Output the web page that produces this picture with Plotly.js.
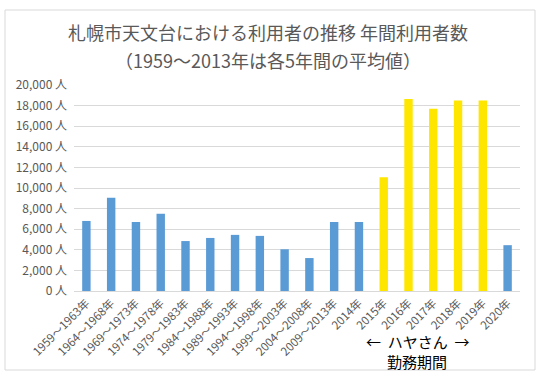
<!DOCTYPE html>
<html><head><meta charset="utf-8">
<script src="https://cdn.plot.ly/plotly-3.0.1.min.js"></script>
<style>html,body{margin:0;padding:0;background:#fff;}#chart{width:543px;height:378px;}</style>
</head><body><div id="chart"></div>
<script>
const categories = ["1959～1963年","1964～1968年","1969～1973年","1974～1978年","1979～1983年","1984～1988年","1989～1993年","1994～1998年","1999～2003年","2004～2008年","2009～2013年","2014年","2015年","2016年","2017年","2018年","2019年","2020年"];
const visitors = [6800,9050,6700,7500,4850,5150,5450,5350,4050,3200,6700,6700,11050,18650,17700,18500,18500,4450];
const highlighted = [false,false,false,false,false,false,false,false,false,false,false,false,true,true,true,true,true,false];
const titleLine1 = "札幌市天文台における利用者の推移 年間利用者数";
const titleLine2 = "（1959～2013年は各5年間の平均値）";
const blue = "#5B9BD5", yellow = "#FFE600";
const W=543,H=378,L=74,R=23,T=85,B=87;
const pw=W-L-R, ph=H-T-B;
const px=x=>(x-L)/pw, py=y=>(H-B-y)/ph;
const font = "Noto Sans CJK JP, Noto Sans, sans-serif";
Plotly.newPlot("chart",[{
  type:"bar", x:categories, y:visitors,
  marker:{color:highlighted.map(h=>h?yellow:blue)},
  hoverinfo:"skip"
}],{
  width:W,height:H,margin:{l:L,r:R,t:T,b:B},
  paper_bgcolor:"#fff",plot_bgcolor:"#fff",
  bargap:0.66, showlegend:false,
  title:{text:titleLine1,
    font:{family:font,size:18,color:"#595959"},x:268/W,xanchor:"center",xref:"container",
    y:1-34/H,yref:"container",yanchor:"middle"},
  xaxis:{type:"category",tickangle:-45,tickfont:{family:font,size:11.5,color:"#595959"},
    showgrid:false,showline:true,linecolor:"#d9d9d9",ticks:"",fixedrange:true},
  yaxis:{range:[0,20000],dtick:2000,tickformat:",d",ticksuffix:" 人",
    tickfont:{family:font,size:12,color:"#595959"},gridcolor:"#d9d9d9",
    zeroline:false,showline:false,ticks:"",ticklabelstandoff:6,fixedrange:true},
  shapes:[{type:"rect",xref:"paper",yref:"paper",x0:px(5),x1:px(535),y0:py(370),y1:py(10),
    line:{color:"#d9d9d9",width:1},fillcolor:"rgba(0,0,0,0)",layer:"below"}],
  annotations:[
    {xref:"paper",yref:"paper",x:px(268),y:py(60),text:titleLine2,showarrow:false,
     font:{family:font,size:18,color:"#595959"},xanchor:"center",yanchor:"middle"},
    {xref:"paper",yref:"paper",x:px(417),y:py(341),text:"←  ハヤさん  →",showarrow:false,
     font:{family:font,size:15,color:"#000"},xanchor:"center",yanchor:"middle"},
    {xref:"paper",yref:"paper",x:px(417),y:py(361),text:"勤務期間",showarrow:false,
     font:{family:font,size:15,color:"#000"},xanchor:"center",yanchor:"middle"}
  ]
},{displayModeBar:false,staticPlot:true});
</script></body></html>
